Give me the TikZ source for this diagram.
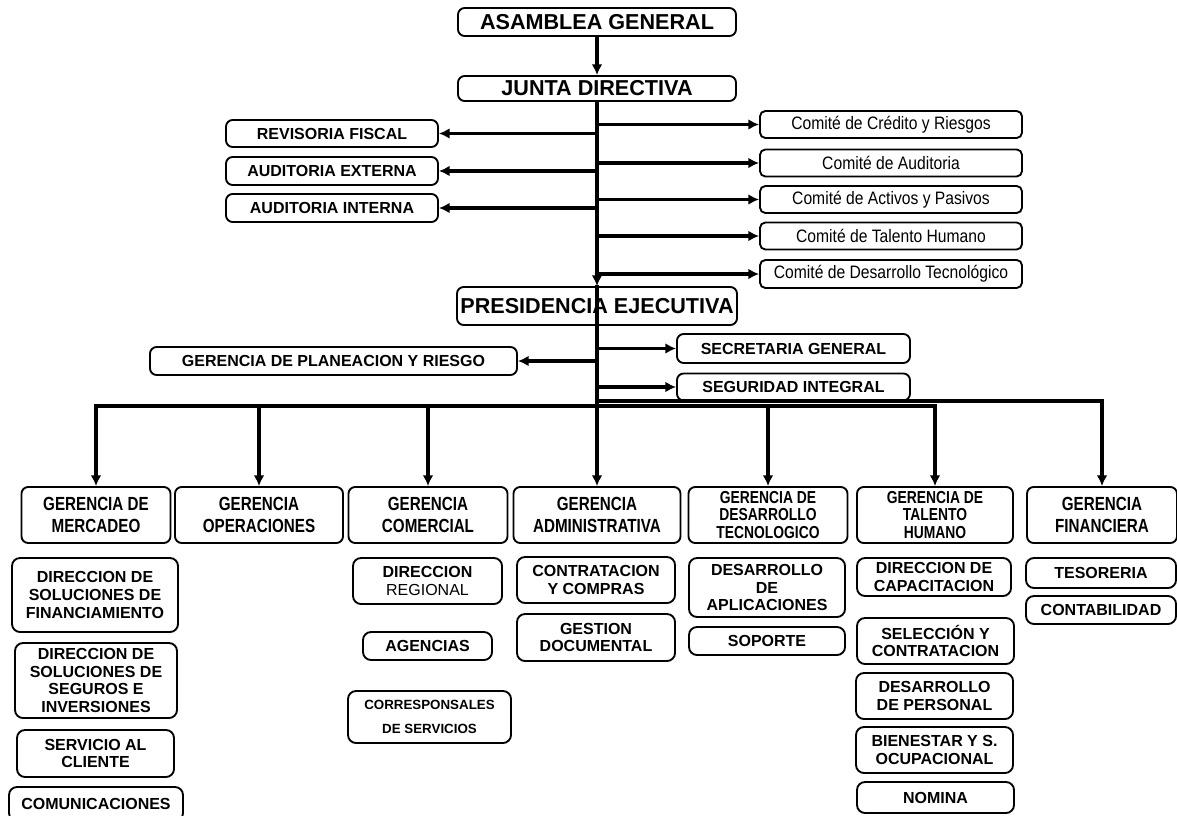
\documentclass[tikz,border=0pt]{standalone}
\usepackage{fontspec}
\setmainfont{Liberation Sans}
\newfontfamily\narrowfont{Liberation Sans}[FakeStretch=0.8]
\newfontfamily\comitefont{Liberation Sans}[FakeStretch=0.87]
\usetikzlibrary{arrows.meta}
\tikzset{
  box/.style={draw, line width=1.4pt, rounded corners=5pt, align=center, inner sep=1pt,
    font=\bfseries\fontsize{12}{13.3}\selectfont},
  boss/.style={box, font=\bfseries\fontsize{16.2}{18}\selectfont},
  comite/.style={box, rounded corners=4pt, font=\comitefont\fontsize{13.5}{15}\selectfont},
  gerencia/.style={box, font=\narrowfont\bfseries\fontsize{14.25}{16.3}\selectfont},
  tres/.style={font=\narrowfont\bfseries\fontsize{13}{13.2}\selectfont},
  unidad/.style={box, rounded corners=6pt},
  sz/.style 2 args={minimum width=#1*0.75pt, minimum height=#2*0.75pt},
  trunk/.style={line width=2.3pt, line cap=rect},
  branch/.style={trunk, -{Latex[length=8pt,width=8pt]}},
}
\begin{document}
\begin{tikzpicture}[x=0.75pt, y=-0.75pt]
  \useasboundingbox (0,0) rectangle (1177,816);
  % cabeza
  \node [boss, sz={278}{28}] (asamblea) at (597,22) {ASAMBLEA GENERAL};
  \node [boss, sz={278}{25}] (junta) at (597,88.5) {JUNTA DIRECTIVA};
  \node [boss, sz={280}{38}] (presidencia) at (597,306) {PRESIDENCIA EJECUTIVA};
  % control
  \node [box, sz={212}{27}] (revisoria) at (332,133.5) {REVISORIA FISCAL};
  \node [box, sz={212}{28}] (audext) at (332,171) {AUDITORIA EXTERNA};
  \node [box, sz={212}{28}] (audint) at (332,208) {AUDITORIA INTERNA};
  % comites
  \node [comite, sz={262}{27}] (credito) at (891,124.5) {Comité de Crédito y Riesgos};
  \node [comite, sz={262}{27}] (cauditoria) at (891,163) {Comité de Auditoria};
  \node [comite, sz={262}{27}] (activos) at (891,199.5) {Comité de Activos y Pasivos};
  \node [comite, sz={262}{27}] (ctalento) at (891,236) {Comité de Talento Humano};
  \node [comite, sz={262}{28}] (ctecno) at (891,274) {Comité de Desarrollo Tecnológico};
  % staff
  \node [box, sz={367}{28}] (planeacion) at (333.5,361) {GERENCIA DE PLANEACION Y RIESGO};
  \node [box, sz={233}{29}] (secretaria) at (793.5,348.5) {SECRETARIA GENERAL};
  \node [box, sz={233}{27}] (seguridad) at (793.5,387) {SEGURIDAD INTEGRAL};
  % gerencias
  \node [gerencia, sz={149}{56}] (mercadeo) at (96,515) {GERENCIA DE\\MERCADEO};
  \node [gerencia, sz={168}{56}] (operaciones) at (259,515) {GERENCIA\\OPERACIONES};
  \node [gerencia, sz={159}{56}] (comercial) at (428,515) {GERENCIA\\COMERCIAL};
  \node [gerencia, sz={167}{56}] (administrativa) at (597,515) {GERENCIA\\ADMINISTRATIVA};
  \node [gerencia, tres, sz={159}{56}] (destec) at (768,515) {GERENCIA DE\\DESARROLLO\\TECNOLOGICO};
  \node [gerencia, tres, sz={156}{56}] (talento) at (935,515) {GERENCIA DE\\TALENTO\\HUMANO};
  \node [gerencia, sz={150}{56}] (financiera) at (1102,515) {GERENCIA\\FINANCIERA};
  % unidades
  \node [unidad, sz={166}{74}] (financiamiento) at (95,595) {DIRECCION DE\\SOLUCIONES DE\\FINANCIAMIENTO};
  \node [unidad, sz={162}{75}] (seguros) at (96,680.5) {DIRECCION DE\\SOLUCIONES DE\\SEGUROS E\\INVERSIONES};
  \node [unidad, sz={157}{47}] (servicio) at (95.5,753.5) {SERVICIO AL\\CLIENTE};
  \node [unidad, sz={174}{34}] (comunicaciones) at (96,804) {COMUNICACIONES};
  \node [unidad, sz={149}{46}] (regional) at (427.5,581) {DIRECCION\\{\mdseries REGIONAL}};
  \node [unidad, sz={129}{28}] (agencias) at (427.5,646) {AGENCIAS};
  \node [unidad, sz={163}{52}, font=\bfseries\fontsize{10}{18}\selectfont] (corresponsales) at (429.5,717) {CORRESPONSALES\\DE SERVICIOS};
  \node [unidad, sz={158}{46}] (compras) at (596,580) {CONTRATACION\\Y COMPRAS};
  \node [unidad, sz={158}{47}] (gestion) at (596,637.5) {GESTION\\DOCUMENTAL};
  \node [unidad, sz={156}{59}] (aplicaciones) at (767,587.5) {DESARROLLO\\DE\\APLICACIONES};
  \node [unidad, sz={156}{28}] (soporte) at (767,641) {SOPORTE};
  \node [unidad, sz={154}{38}] (capacitacion) at (934,577) {DIRECCION DE\\CAPACITACION};
  \node [unidad, sz={157}{46}] (seleccion) at (935.5,641) {SELECCIÓN Y\\CONTRATACION};
  \node [unidad, sz={157}{46}] (personal) at (934.5,696) {DESARROLLO\\DE PERSONAL};
  \node [unidad, sz={157}{46}] (bienestar) at (934.5,750) {BIENESTAR Y S.\\OCUPACIONAL};
  \node [unidad, sz={157}{31}] (nomina) at (935.5,797.5) {NOMINA};
  \node [unidad, sz={150}{30}] (tesoreria) at (1101,573) {TESORERIA};
  \node [unidad, sz={150}{28}] (contabilidad) at (1101,610) {CONTABILIDAD};
  % conexiones
  \coordinate (busA) at (597,406);
  \coordinate (busB) at (597,401);
  \draw [branch] (asamblea) -- (junta);
  \draw [branch] (junta) -- (presidencia);
  \foreach \c in {revisoria,audext,audint}
    \draw [branch] (junta.south |- \c.east) -- (\c.east);
  \foreach \c in {credito,cauditoria,activos,ctalento,ctecno}
    \draw [branch] (junta.south |- \c.west) -- (\c.west);
  \draw [branch] (presidencia.north) -- (administrativa.north);
  \draw [branch] (presidencia.south |- planeacion.east) -- (planeacion.east);
  \draw [branch] (presidencia.south |- secretaria.west) -- (secretaria.west);
  \draw [branch] (presidencia.south |- seguridad.west) -- (seguridad.west);
  \draw [trunk] (mercadeo.north |- busA) -- (talento.north |- busA);
  \foreach \g in {mercadeo,operaciones,comercial,destec,talento}
    \draw [branch] (\g.north |- busA) -- (\g.north);
  \draw [branch] (busB) -| (financiera.north);
\end{tikzpicture}
\end{document}
